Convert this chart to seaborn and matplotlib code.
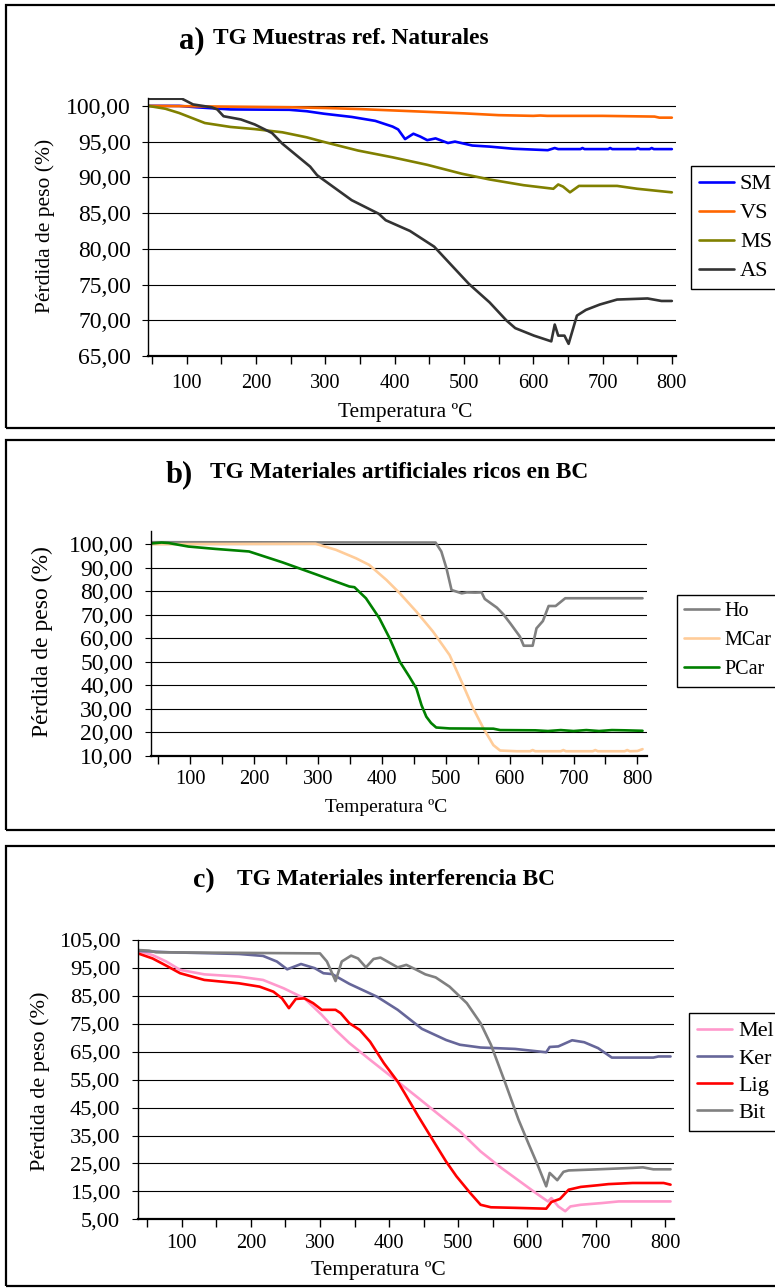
import matplotlib
matplotlib.use("Agg")
import matplotlib.pyplot as plt
import numpy as np
import pandas as pd
import seaborn as sns
from matplotlib.patches import Rectangle
from matplotlib.ticker import FuncFormatter

# ---------------- data: thermogravimetric curves (temperature ºC, weight %) ----------------
# a) natural reference samples
SM_T = [44, 89, 114, 163, 248, 273, 298, 338, 372, 397, 405, 415, 427, 437, 447, 459, 477, 487, 512, 537,
        571, 621, 631, 636, 668, 671, 674, 708, 711, 714, 748, 751, 754, 768, 771, 774, 800]
SM_V = [100, 100, 99.8, 99.5, 99.45, 99.25, 98.9, 98.45, 97.9, 97.1, 96.7, 95.35, 96.1, 95.7, 95.2, 95.45, 94.8, 95.0, 94.45, 94.3,
        94.0, 93.8, 94.1, 93.95, 93.95, 94.1, 93.95, 93.95, 94.1, 93.95, 93.95, 94.1, 93.95, 93.95, 94.1, 93.95, 93.95]

VS_T = [44, 100, 150, 200, 250, 300, 350, 400, 450, 500, 550, 600, 610, 620, 700, 775, 782, 800]
VS_V = [100, 99.95, 99.9, 99.85, 99.8, 99.7, 99.55, 99.35, 99.15, 98.95, 98.7, 98.6, 98.65, 98.6, 98.6, 98.5, 98.35, 98.35]

MS_T = [44, 69, 89, 126, 163, 198, 238, 273, 298, 347, 397, 447, 497, 537, 586, 629, 636, 643, 653, 666, 721, 750, 775, 800]
MS_V = [100, 99.6, 99.0, 97.6, 97.05, 96.75, 96.3, 95.6, 94.95, 93.75, 92.8, 91.75, 90.5, 89.7, 88.9, 88.4, 89.0, 88.7, 87.9, 88.8,
        88.8, 88.4, 88.15, 87.9]

AS_T = [44, 93, 109, 136, 144, 153, 178, 198, 223, 238, 278, 288, 338, 377, 387, 422, 457, 507, 537, 561,
        574, 601, 626, 631, 636, 645, 651, 663, 676, 696, 721, 765, 785, 800]
AS_V = [101, 101, 100.2, 99.8, 99.5, 98.55, 98.1, 97.4, 96.2, 94.7, 91.5, 90.3, 86.8, 84.9, 84.0, 82.5, 80.3, 75.1, 72.5, 70.0,
        68.9, 67.85, 67.05, 69.4, 67.85, 67.85, 66.7, 70.65, 71.45, 72.2, 72.9, 73.05, 72.7, 72.7]

# b) artificial black-carbon-rich materials
HO_T = [38.5, 484, 493, 501, 509, 525, 533, 546, 556, 561, 580, 590, 601, 616, 622, 636, 642, 652, 661, 672, 687, 808]
HO_V = [100.85, 100.7, 96.9, 89.8, 80.5, 79.1, 79.5, 79.4, 79.5, 76.7, 73.0, 70.2, 66.3, 60.7, 56.8, 56.8, 64.2, 67.3, 73.7, 73.7,
        77.0, 77.0]

MCAR_T = [38.5, 296, 328, 359.5, 380, 407, 428, 454, 480, 506, 527, 543, 559, 574.5, 585, 611, 632, 636, 640, 680,
          684, 688, 730, 734, 738, 780, 784, 788, 800, 808]
MCAR_V = [100, 100.2, 97.6, 94.0, 91.2, 84.8, 79.1, 71.3, 62.8, 52.8, 40.1, 30.1, 21.6, 14.5, 12.2, 11.9, 11.9, 12.4, 11.9, 11.9,
          12.4, 11.9, 11.9, 12.4, 11.9, 11.9, 12.4, 11.9, 12.0, 12.8]

PCAR_T = [38.5, 55, 66, 97, 139, 192, 244, 296.5, 349, 357, 375, 396, 412, 428, 443, 454, 462, 469.5, 477, 485,
          506, 574.5, 585, 640, 660, 680, 700, 720, 740, 760, 780, 808]
PCAR_V = [100.3, 100.7, 100.5, 99.0, 98.0, 96.9, 92.3, 87.2, 82.0, 81.7, 77.0, 68.5, 60.0, 50.0, 43.6, 38.6, 31.5, 26.6, 23.9, 22.0,
          21.6, 21.5, 20.9, 20.8, 20.5, 20.9, 20.5, 20.9, 20.5, 20.9, 20.8, 20.6]

# c) interfering materials
MEL_T = [36.5, 57.5, 77.5, 97.5, 132.5, 182.5, 217.5, 247.5, 277.5, 302.5, 322.5, 342.5, 372.5, 412.5, 442.5, 472.5, 502.5,
         532.5, 562.5, 592.5, 612.5, 630, 635, 645, 655, 662.5, 677.5, 707.5, 732.5, 807.5]
MEL_V = [101.1, 99.6, 97.3, 94.3, 92.7, 91.9, 90.7, 87.7, 84.1, 78.2, 72.8, 68.1, 62.1, 54.3, 48.4, 42.4, 36.5,
         29.3, 23.4, 18.0, 14.4, 11.4, 12.6, 9.6, 7.9, 9.6, 10.2, 10.8, 11.4, 11.4]

KER_T = [36.5, 82.5, 182.5, 217.5, 237.5, 252.5, 272.5, 292.5, 305, 317.5, 342.5, 382.5, 412.5, 447.5, 482.5, 502.5, 532.5,
         582.5, 627.5, 632.5, 645, 665, 682.5, 702.5, 722.5, 782.5, 790, 807.5]
KER_V = [101.1, 100.6, 100.0, 99.3, 97.3, 94.5, 96.4, 94.9, 93.1, 92.8, 89.3, 84.7, 80.0, 73.2, 69.2, 67.5, 66.5,
         66.0, 64.8, 66.7, 66.9, 69.1, 68.4, 66.3, 62.9, 62.9, 63.3, 63.3]

LIG_T = [36.5, 57.5, 77.5, 97.5, 132.5, 157.5, 182.5, 212.5, 232.5, 245, 255, 265, 277.5, 290, 302.5, 322.5, 330, 342.5,
         357.5, 372.5, 392.5, 412.5, 422.5, 442.5, 467.5, 482.5, 497.5, 517.5, 532.5, 547.5, 582.5, 627.5, 635, 647.5,
         660, 677.5, 702.5, 717.5, 752.5, 797.5, 807.5]
LIG_V = [100.2, 98.4, 95.8, 93.1, 90.7, 90.1, 89.5, 88.3, 86.5, 84.1, 80.6, 83.9, 84.1, 82.4, 80.0, 80.0, 78.8, 75.2,
         72.8, 68.6, 60.9, 54.3, 50.2, 41.8, 31.7, 25.7, 20.4, 14.4, 10.2, 9.3, 9.1, 8.8, 11.2, 12.3,
         15.6, 16.6, 17.2, 17.6, 18.0, 18.0, 17.4]

BIT_T = [36.5, 52.5, 62.5, 300, 310, 322.5, 331.5, 345, 355, 366.5, 377.5, 387.5, 412.5, 425, 437.5, 452.5, 467.5, 487.5,
         512.5, 532.5, 547.5, 567.5, 587.5, 602.5, 615, 627.5, 632.5, 643.5, 652.5, 660, 692.5, 752.5, 767.5, 782.5, 807.5]
BIT_V = [101.4, 101.2, 100.6, 100.2, 97.3, 90.3, 97.3, 99.4, 98.4, 95.2, 98.2, 98.7, 95.2, 96.1, 94.6, 92.7, 91.6, 88.3,
         82.4, 75.2, 67.5, 54.3, 40.6, 31.7, 24.5, 16.8, 21.6, 19.0, 22.0, 22.5, 22.8, 23.4, 23.6, 22.9, 22.9]

X_MAJOR = [100, 200, 300, 400, 500, 600, 700, 800]
X_MINOR = [50, 150, 250, 350, 450, 550, 650, 750]

# ---------------- figure ----------------
W, H = 775, 1288
sns.set_theme(style="white")
plt.rcParams["font.family"] = ["Liberation Serif", "DejaVu Serif"]
plt.rcParams["axes.edgecolor"] = "black"

fig = plt.figure(figsize=(W / 100, H / 100), dpi=100)
fig.patch.set_facecolor("white")


def fx(x):
    return x / W


def fy(y):
    return 1 - y / H


def add_axes_px(left, top, right, bottom):
    return fig.add_axes([fx(left), fy(bottom), (right - left) / W, (bottom - top) / H])


def frame(top, bottom):
    fig.add_artist(Rectangle((fx(6), fy(bottom)), (800 - 6) / W, (bottom - top) / H,
                             transform=fig.transFigure, fill=False, ec="black", lw=1.6))


comma_fmt = FuncFormatter(lambda v, p: f"{v:.2f}".replace(".", ","))


def draw(ax, series):
    for name, t, v, color in series:
        df = pd.DataFrame({"T": t, "V": v})
        sns.lineplot(data=df, x="T", y="V", ax=ax, color=color, lw=1.9,
                     label=name, estimator=None, sort=False)


def style(ax, xlim, ylim, yticks, ysize, xpad, ypad):
    ax.set_xlim(*xlim)
    ax.set_ylim(*ylim)
    ax.set_yticks(yticks)
    ax.yaxis.set_major_formatter(comma_fmt)
    ax.set_xticks(X_MAJOR)
    ax.set_xticks(X_MINOR, minor=True)
    ax.tick_params(axis="x", which="both", direction="out", length=5.8, width=1.0,
                   color="black", bottom=True)
    ax.tick_params(axis="x", which="major", labelsize=14.7, pad=xpad, labelcolor="black")
    ax.tick_params(axis="y", direction="out", length=4.3, width=0.8, color="black",
                   left=True, labelsize=ysize, pad=ypad, labelcolor="black")
    ax.grid(False)
    ax.yaxis.grid(True, color="black", lw=0.8)
    ax.set_axisbelow(True)
    ax.set_facecolor("white")
    for s in ("top", "right"):
        ax.spines[s].set_visible(False)
    ax.spines["left"].set_linewidth(1.0)
    ax.spines["bottom"].set_linewidth(1.6)
    ax.spines["left"].set_color("black")
    ax.spines["bottom"].set_color("black")


def labels(ax, xc, xsize, ylc, ylsize):
    ax.set_xlabel("Temperatura ºC", fontsize=xsize, color="black")
    ax.xaxis.set_label_coords(fx(xc[0]), fy(xc[1]), transform=fig.transFigure)
    ax.xaxis.label.set_va("center")
    ax.set_ylabel("Pérdida de peso (%)", fontsize=ylsize, color="black")
    ax.yaxis.set_label_coords(fx(ylc[0]), fy(ylc[1]), transform=fig.transFigure)
    ax.yaxis.label.set_va("center")
    ax.yaxis.label.set_ha("center")


def legend(ax, left, top, size, spacing, handle):
    leg = ax.legend(loc="upper left", bbox_to_anchor=(fx(left), fy(top)),
                    bbox_transform=fig.transFigure, borderaxespad=0, frameon=True,
                    fancybox=False, framealpha=1, edgecolor="black", fontsize=size,
                    handlelength=handle, handletextpad=0.25, borderpad=0.35,
                    labelspacing=spacing)
    leg.get_frame().set_linewidth(1.0)
    for t in leg.get_texts():
        t.set_color("black")


def title(tag, tag_x, tag_base, tag_size, text, text_x, text_base):
    fig.text(fx(tag_x), fy(tag_base), tag, fontsize=tag_size, fontweight="bold",
             va="baseline", ha="left", color="black")
    fig.text(fx(text_x), fy(text_base), text, fontsize=16.8, fontweight="bold",
             va="baseline", ha="left", color="black")


# ---- panel a ----
frame(5, 428)
ax_a = add_axes_px(148, 98, 676, 356)
draw(ax_a, [("SM", SM_T, SM_V, "#0000FF"),
            ("VS", VS_T, VS_V, "#FF6600"),
            ("MS", MS_T, MS_V, "#808000"),
            ("AS", AS_T, AS_V, "#333333")])
style(ax_a, (44, 806), (65, 101.1), np.arange(65, 100.1, 5), 17, 7.5, 8)
labels(ax_a, (405, 412), 15.4, (45, 226), 15.5)
legend(ax_a, 691, 166, 16, 0.38, 1.6)
title("a)", 179, 48, 22, "TG Muestras ref. Naturales", 213, 44)

# ---- panel b ----
frame(440, 830)
ax_b = add_axes_px(151, 531.5, 647, 755.7)
draw(ax_b, [("Ho", HO_T, HO_V, "#808080"),
            ("MCar", MCAR_T, MCAR_V, "#FFCC99"),
            ("PCar", PCAR_T, PCAR_V, "#008000")])
style(ax_b, (38.5, 815), (10, 105.4), np.arange(10, 100.1, 10), 17, 4.5, 8.5)
labels(ax_b, (386, 808), 14, (42, 642), 17)
legend(ax_b, 677, 595, 14.5, 0.5, 1.75)
title("b)", 166, 482, 22, "TG Materiales artificiales ricos en BC", 210, 478)

# ---- panel c ----
frame(846, 1286)
ax_c = add_axes_px(138, 940, 674, 1219.3)
draw(ax_c, [("Mel", MEL_T, MEL_V, "#FF99CC"),
            ("Ker", KER_T, KER_V, "#666699"),
            ("Lig", LIG_T, LIG_V, "#FF0000"),
            ("Bit", BIT_T, BIT_V, "#808080")])
style(ax_c, (36.5, 812.5), (5, 105), np.arange(5, 105.1, 10), 16.2, 4.5, 8.5)
labels(ax_c, (378, 1270), 15.5, (40, 1081), 16)
legend(ax_c, 689, 1013, 16, 0.3, 1.6)
title("c)", 193, 887, 20, "TG Materiales interferencia BC", 237, 885)

fig.savefig("out.png", dpi=100, facecolor="white")
